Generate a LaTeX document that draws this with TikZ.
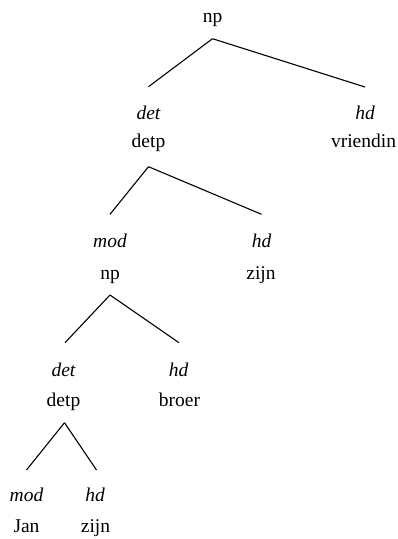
\documentclass[tikz,border=0pt]{standalone}
\usepackage{fontspec}
\setmainfont{Liberation Serif}
\newfontfamily\tnr{Liberation Serif}
\begin{document}
\begin{tikzpicture}[x=1pt,y=-1pt,
  cat/.style={anchor=base,inner sep=0pt,font=\tnr\fontsize{19.5}{22}\selectfont},
  lab/.style={anchor=base,inner sep=0pt,font=\tnr\fontsize{19.5}{22}\selectfont\itshape},
  edge/.style={line width=1.1pt}]
\useasboundingbox (0,0) rectangle (398,539);
% level 0
\node[cat] (n0) at (212.5,22.7) {np};
% level 1
\node[lab] (l1a) at (148.5,119.3) {det};
\node[cat] (n1a) at (148.5,147.7) {detp};
\node[lab] (l1b) at (365,119.3) {hd};
\node[cat] (n1b) at (363.5,147.7) {vriendin};
% level 2
\node[lab] (l2a) at (110,247.3) {mod};
\node[cat] (n2a) at (110,279.3) {np};
\node[lab] (l2b) at (261.5,247.3) {hd};
\node[cat] (n2b) at (261,279.3) {zijn};
% level 3
\node[lab] (l3a) at (63.5,376.7) {det};
\node[cat] (n3a) at (63.5,406.7) {detp};
\node[lab] (l3b) at (178.5,376.7) {hd};
\node[cat] (n3b) at (179.5,406.7) {broer};
% level 4
\node[lab] (l4a) at (26.5,501.7) {mod};
\node[cat] (n4a) at (26.5,532) {Jan};
\node[lab] (l4b) at (95,501.7) {hd};
\node[cat] (n4b) at (95.5,532) {zijn};
% edges
\draw[edge] ([yshift=-16]n0.base) -- ([yshift=32.6]l1a.base);
\draw[edge] ([yshift=-16]n0.base) -- ([yshift=32.3]l1b.base);
\draw[edge] ([yshift=-19]n1a.base) -- ([yshift=33]l2a.base);
\draw[edge] ([yshift=-19]n1a.base) -- ([yshift=33]l2b.base);
\draw[edge] ([yshift=-15.7]n2a.base) -- ([xshift=1.5,yshift=34]l3a.base);
\draw[edge] ([yshift=-15.7]n2a.base) -- ([xshift=0.5,yshift=34]l3b.base);
\draw[edge] ([xshift=1,yshift=-16]n3a.base) -- ([yshift=31.7]l4a.base);
\draw[edge] ([xshift=1,yshift=-16]n3a.base) -- ([xshift=1.5,yshift=31.7]l4b.base);
\end{tikzpicture}
\end{document}
